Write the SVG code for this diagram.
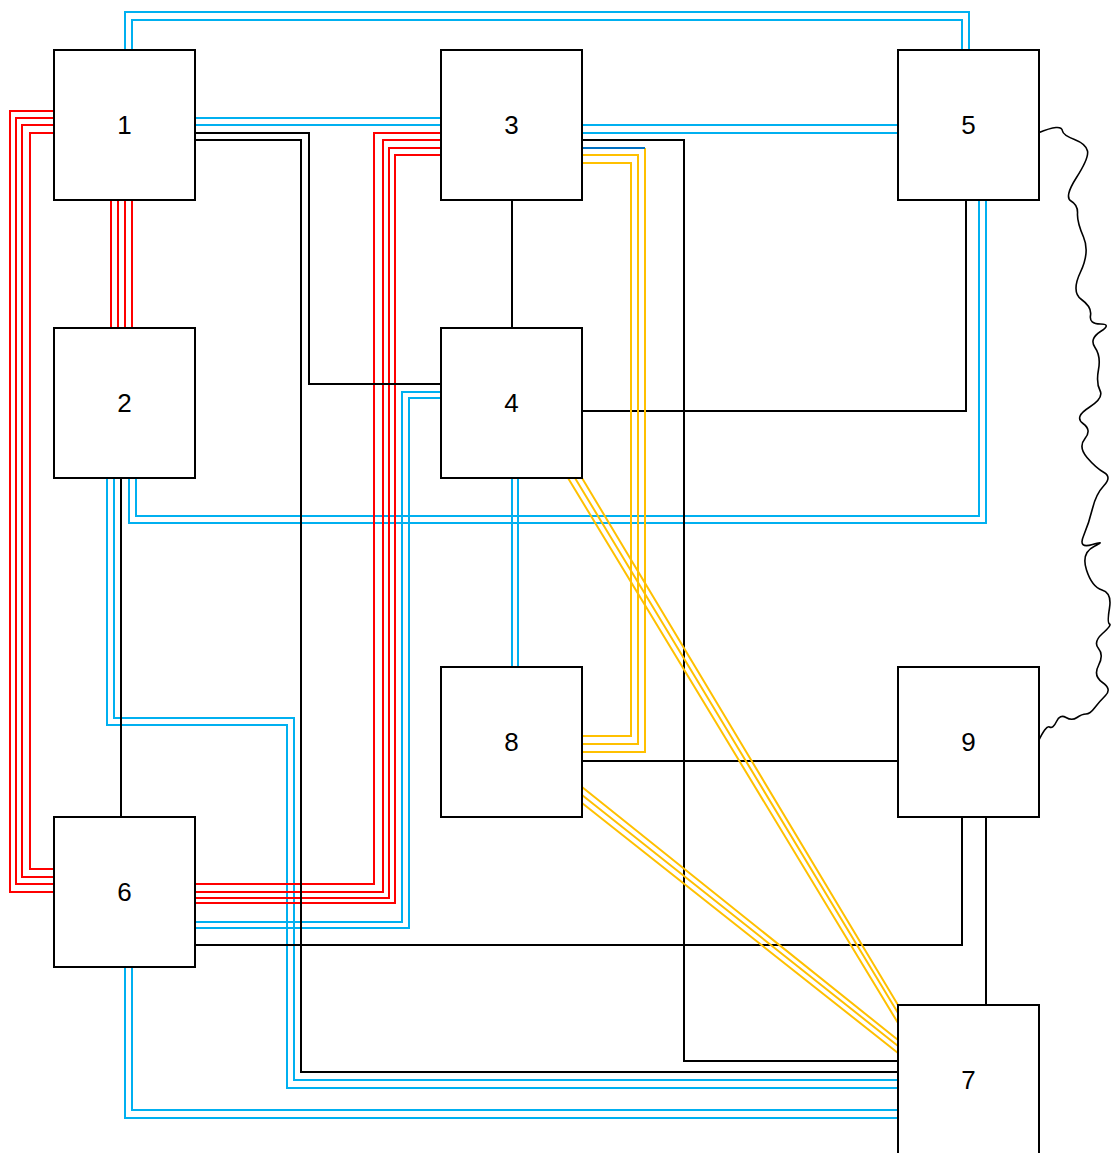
<svg xmlns="http://www.w3.org/2000/svg" width="1112" height="1153" viewBox="0 0 1112 1153">
  <style>
    .c { fill: none; stroke-width: 2; stroke-linejoin: miter; }
    .blue { stroke: #00B0F0; }
    .red { stroke: #FF0000; }
    .blk { stroke: #000000; }
    .ylw { stroke: #FFC000; }
    .dblue { stroke: #0070C0; }
    .wave { fill: none; stroke: #000000; stroke-width: 1.6; stroke-linejoin: round; }
    .box { fill: #FFFFFF; stroke: #000000; stroke-width: 2; }
    .lbl { font-family: "Liberation Sans", Arial, sans-serif; font-size: 26px; fill: #000000; text-anchor: middle; }
  </style>
  <rect width="1112" height="1153" fill="#FFFFFF"/>

  <g id="connectors">
    <!-- blue pairs -->
    <path class="c blue" d="M125,50 V12 H969 V50 M132,50 V20 H962 V50"/>
    <path class="c blue" d="M195,118 H441 M195,125 H441"/>
    <path class="c blue" d="M582,125 H898 M582,133 H898"/>
    <path class="c blue" d="M136,478 V516 H979 V200 M129,478 V523 H986 V200"/>
    <path class="c blue" d="M114,478 V718 H294 V1080 H898 M107,478 V725 H287 V1088 H898"/>
    <path class="c blue" d="M132,967 V1110 H898 M125,967 V1118 H898"/>
    <path class="c blue" d="M441,392 H402 V922 H195 M441,398 H409 V928 H195"/>
    <path class="c blue" d="M512,478 V667 M518,478 V667"/>

    <!-- red bundles -->
    <path class="c red" d="M111,200 V328 M118,200 V328 M125,200 V328 M132,200 V328"/>
    <path class="c red" d="M54,111 H10 V892 H54 M54,118 H16 V884 H54 M54,125 H22 V877 H54 M54,133 H30 V869 H54"/>
    <path class="c red" d="M441,133 H374 V884 H195 M441,140 H383 V892 H195 M441,148 H389 V898 H195 M441,155 H395 V903 H195"/>

    <!-- black single lines -->
    <path class="c blk" d="M195,133 H309 V384 H441"/>
    <path class="c blk" d="M195,140 H301 V1072 H898"/>
    <path class="c blk" d="M512,200 V328"/>
    <path class="c blk" d="M582,140 H684 V1061 H898"/>
    <path class="c blk" d="M582,411 H966 V200"/>
    <path class="c blk" d="M121,478 V817"/>
    <path class="c blk" d="M582,761 H898"/>
    <path class="c blk" d="M195,945 H962 V817"/>
    <path class="c blk" d="M986,817 V1005"/>

    <!-- yellow bundles -->
    <path class="c ylw" d="M582,736 H631 V163 H582 M582,744 H638 V155 H582 M582,752 H645 V148"/>
    <path class="c dblue" d="M582,148 H645"/>
    <path class="c ylw" d="M568,478 L898,1023 M575,478 L898,1013 M582,478 L898,1005"/>
    <path class="c ylw" d="M582,787 L898,1040 M582,795 L898,1046 M582,803 L898,1053"/>

    <!-- wavy link 5 to 9 -->
    <path class="wave" d="M1038,133 Q1050,128 1056,127.5 Q1062,127 1062.5,131 Q1063,135 1074.5,139.5 Q1086,144 1087.5,151 Q1089,158 1076.5,177.5 Q1064,197 1071,201 Q1078,205 1077.5,213.5 Q1077,222 1083.5,237 Q1090,252 1080.5,272 Q1071,292 1081.5,299.5 Q1092,307 1090.5,315.5 Q1089,324 1100.5,324 Q1112,324 1100.5,331.5 Q1089,339 1095,347.5 Q1101,356 1098.5,369.5 Q1096,383 1100,390.5 Q1104,398 1089,407.5 Q1074,417 1083,423.5 Q1092,430 1085,438.5 Q1078,447 1087,457.5 Q1096,468 1104,472.5 Q1112,477 1104,485.5 Q1096,494 1092.5,508.5 Q1089,523 1083.5,536 Q1078,549 1092.5,544.5 Q1107,540 1094,546.5 Q1081,553 1086.5,570 Q1092,587 1102,590 Q1112,593 1109.5,608 Q1107,623 1109.5,624 Q1112,625 1102.5,633.5 Q1093,642 1098.5,648.5 Q1104,655 1098.5,665.5 Q1093,676 1102.5,682.5 Q1112,689 1105.5,695.5 Q1099,702 1094.5,708 Q1090,714 1086,714 Q1082,714 1077,717.5 Q1072,721 1066,717.5 Q1060,714 1056.5,721.5 Q1053,729 1049.5,727 Q1046,725 1038,742"/>
  </g>

  <g id="node1"><rect class="box" x="54" y="50" width="141" height="150"/><text class="lbl" x="124.5" y="134">1</text></g>
  <g id="node2"><rect class="box" x="54" y="328" width="141" height="150"/><text class="lbl" x="124.5" y="412">2</text></g>
  <g id="node3"><rect class="box" x="441" y="50" width="141" height="150"/><text class="lbl" x="511.5" y="134">3</text></g>
  <g id="node4"><rect class="box" x="441" y="328" width="141" height="150"/><text class="lbl" x="511.5" y="412">4</text></g>
  <g id="node5"><rect class="box" x="898" y="50" width="141" height="150"/><text class="lbl" x="968.5" y="134">5</text></g>
  <g id="node6"><rect class="box" x="54" y="817" width="141" height="150"/><text class="lbl" x="124.5" y="901">6</text></g>
  <g id="node7"><rect class="box" x="898" y="1005" width="141" height="150"/><text class="lbl" x="968.5" y="1089">7</text></g>
  <g id="node8"><rect class="box" x="441" y="667" width="141" height="150"/><text class="lbl" x="511.5" y="751">8</text></g>
  <g id="node9"><rect class="box" x="898" y="667" width="141" height="150"/><text class="lbl" x="968.5" y="751">9</text></g>
</svg>
